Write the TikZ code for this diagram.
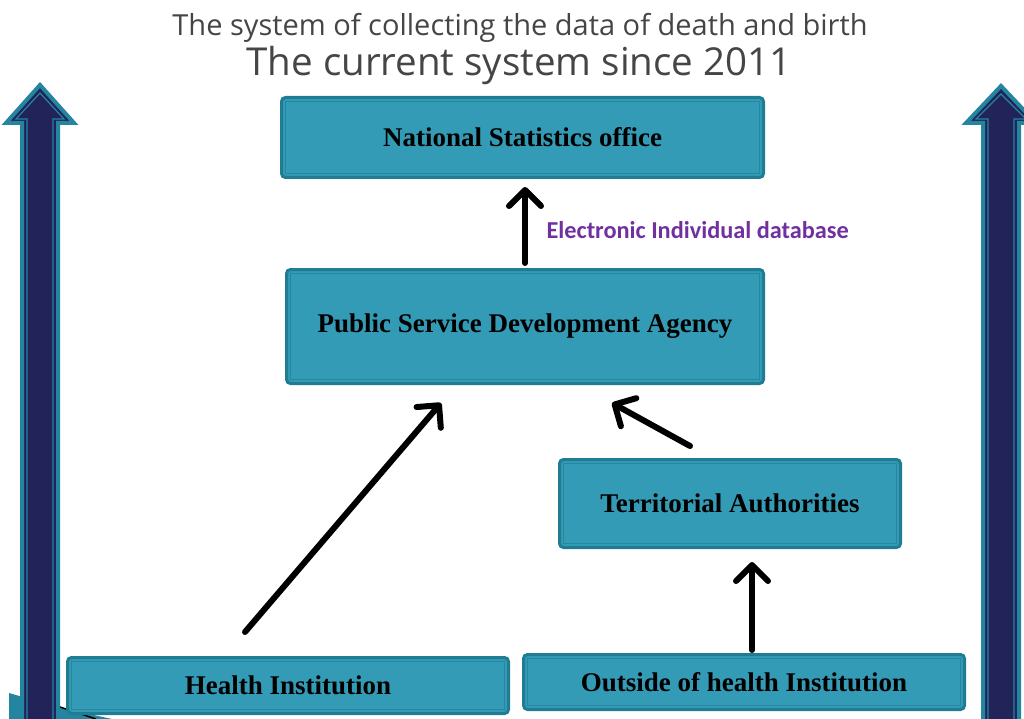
\documentclass[tikz,border=0pt]{standalone}
\usepackage{fontspec}
\setmainfont{Liberation Serif}
\newfontfamily\titlefont{Open Sans}
\newfontfamily\labelfont{Carlito}
\usetikzlibrary{arrows.meta,calc}
\definecolor{boxfill}{HTML}{339BB5}
\definecolor{boxedge}{HTML}{1F7C93}
\definecolor{boxinner}{HTML}{2787A0}
\definecolor{navy}{HTML}{222358}
\definecolor{bigedge}{HTML}{2385A0}
\definecolor{titlegray}{HTML}{454545}
\definecolor{labelpurple}{HTML}{7030A0}
\begin{document}
\begin{tikzpicture}[x=1pt,y=-1pt,
  orgbox/.style={draw=boxedge, fill=boxfill, line width=3pt, rounded corners=4pt,
    inner sep=0pt, font=\bfseries\fontsize{27}{32}\selectfont},
  innerline/.style={draw=boxinner, line width=1.3pt},
  flow/.style={line width=6pt, line cap=round,
    -{Straight Barb[length=16pt,width=32pt,round]}},
  bigarrow/.style={fill=navy, draw=bigedge, line width=4pt, line join=miter},
  bigarrowline/.style={draw=bigedge, line width=1.2pt}
]
\useasboundingbox (0,0) rectangle (1024,719);
\clip (0,0) rectangle (1024,719);

% corner decoration at the lower left
\fill[bigedge] (9,693) -- (57,707) -- (112,719) -- (9,719) -- cycle;
\draw[black, line width=1.5pt] (57,706) -- (96,719);

% large side arrows
\draw[bigarrow] (40,85) -- (74,123) -- (58,123) -- (58,730) -- (22,730) -- (22,123) -- (6,123) -- cycle;
\draw[bigarrowline] (40,93) -- (64,119) -- (53,119) -- (53,730) -- (27,730) -- (27,119) -- (16,119) -- cycle;
\draw[bigarrow] (1001,86) -- (1036,123) -- (1019,123) -- (1019,730) -- (983,730) -- (983,123) -- (966,123) -- cycle;
\draw[bigarrowline] (1001,94) -- (1026,119) -- (1014,119) -- (1014,730) -- (988,730) -- (988,119) -- (976,119) -- cycle;

% titles
\node[font=\titlefont\fontsize{29}{34}\selectfont, text=titlegray] (t1) at (520,28)
  {The system of collecting the data of death and birth};
\node[font=\titlefont\fontsize{38.5}{44}\selectfont, text=titlegray] (t2) at (519,66)
  {The current system since 2011};

% organisations
\node[orgbox, minimum width=482pt, minimum height=80pt] (nso) at (522.5,137.5) {National Statistics office};
\node[orgbox, minimum width=477pt, minimum height=114pt] (psda) at (525,326.5) {Public Service Development Agency};
\node[orgbox, minimum width=341pt, minimum height=88pt] (ta) at (730,503.5) {Territorial Authorities};
\node[orgbox, minimum width=441pt, minimum height=56pt] (hi) at (288,685.5) {Health Institution};
\node[orgbox, minimum width=441pt, minimum height=55pt] (oh) at (744,682) {Outside of health Institution};
\foreach \n in {nso,psda,ta,hi,oh}
  \draw[innerline] ($(\n.north west)+(5.5,5.5)$) rectangle ($(\n.south east)+(-5.5,-5.5)$);

% data flows
\coordinate (hiout) at (245,632);
\coordinate (psdain) at (441,403);
\coordinate (taout) at (690,446);
\coordinate (psdain2) at (612,403);
\draw[flow] ([yshift=5pt]psda.north) -- ([yshift=-8pt]psda.north |- nso.south);
\draw[flow] (hiout) -- (psdain);
\draw[flow] (taout) -- (psdain2);
\draw[flow] (752,650) -- (752,562);

\node[anchor=west, font=\labelfont\bfseries\fontsize{24.3}{29}\selectfont, text=labelpurple] (lbl)
  at (543,230) {Electronic Individual database};
\end{tikzpicture}
\end{document}
